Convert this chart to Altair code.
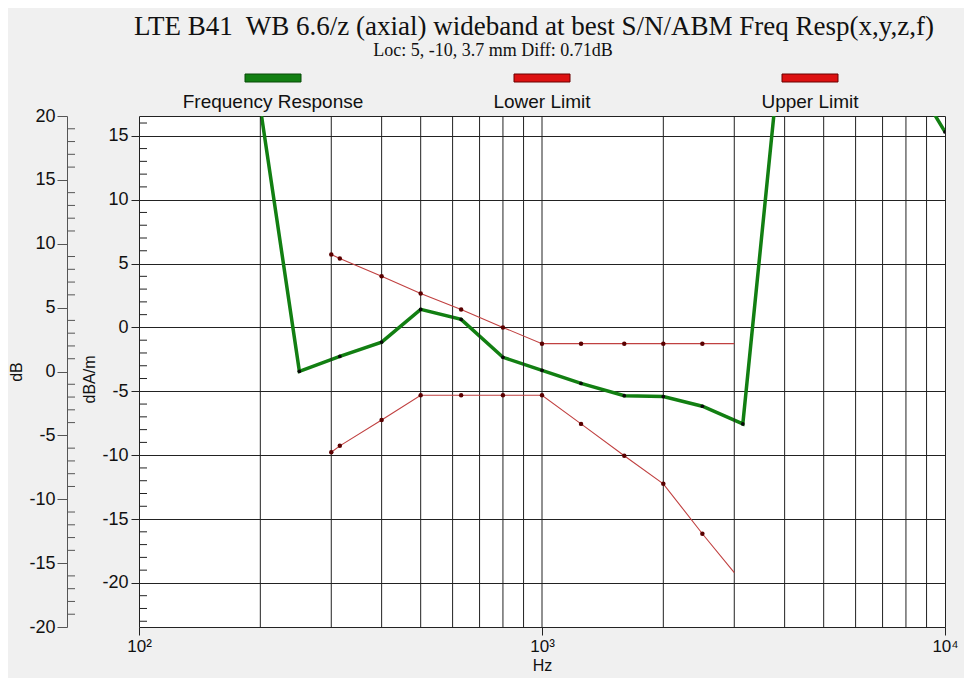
import altair as alt
import pandas as pd

# ---------------- data ----------------
title_text = "LTE B41\u00a0 WB 6.6/z (axial) wideband at best S/N/ABM Freq Resp(x,y,z,f)"
subtitle_text = "Loc: 5, -10, 3.7 mm Diff: 0.71dB"
series_names = ["Frequency Response", "Lower Limit", "Upper Limit"]

# frequency response (dBA/m, inner axis)
fr_freq = [200, 250, 315, 400, 500, 630, 800, 1000, 1250, 1600, 2000, 2500, 3150,
           4000, 5000, 6300, 8000, 10000]
fr_val = [17.2, -3.44, -2.27, -1.15, 1.41, 0.63, -2.34, -3.36, -4.38, -5.34, -5.41,
          -6.17, -7.55, 25.0, 27.0, 24.0, 20.4, 15.3]

# limit masks
lim_freq = [300, 315, 400, 500, 630, 800, 1000, 1250, 1600, 2000, 2500, 3000]
lower_val = [-9.77, -9.27, -7.24, -5.31, -5.31, -5.31, -5.31, -7.55, -10.05, -12.24, -16.15, -19.2]
upper_val = [5.7, 5.4, 4.0, 2.65, 1.4, 0.0, -1.27, -1.27, -1.27, -1.27, -1.27, -1.27]

x_grid_values = [200, 300, 400, 500, 600, 700, 800, 900,
                 1000, 2000, 3000, 4000, 5000, 6000, 7000, 8000, 9000]
x_label_values = [100, 1000, 10000]
inner_major = [-20, -15, -10, -5, 0, 5, 10, 15]
outer_major = [-20, -15, -10, -5, 0, 5, 10, 15, 20]
inner_domain = [-23.45, 16.55]
outer_domain = [-20, 20]

inner_minor = [v for v in range(-23, 17) if v % 5 != 0]
outer_minor = [v for v in range(-20, 21) if v % 5 != 0]

fr_df = pd.DataFrame({"freq": fr_freq, "val": fr_val})
lim_df = pd.DataFrame({"freq": lim_freq, "lower": lower_val, "upper": upper_val})
lim_pts_df = lim_df.iloc[:-1]
legend_df = pd.DataFrame({"name": series_names})
inner_minor_df = pd.DataFrame({"v": inner_minor})
outer_minor_df = pd.DataFrame({"v": outer_minor})
xgrid_df = pd.DataFrame({"freq": x_grid_values})
text_df = pd.DataFrame({"title": [title_text], "sub": [subtitle_text]})

GREEN = "#127f12"
RED_LINE = "#c04040"
RED_DOT = "#5a0000"
GRID = "#222222"
SANS = "Liberation Sans"
SERIF = "Liberation Serif"
HYPHEN = "datum.value < 0 ? '-' + abs(datum.value) : '' + datum.value"


def xscale():
    return alt.Scale(type="log", domain=[100, 10000], nice=False)


def yscale():
    return alt.Scale(domain=inner_domain, nice=False, zero=False)


x_axis = alt.Axis(
    values=x_label_values, orient="bottom",
    labelExpr="datum.value == 100 ? '10²' : datum.value == 1000 ? '10³' : '10⁴'",
    grid=False, domain=False, tickColor=GRID, tickSize=8,
    labelFontSize=17, labelPadding=3, labelFont=SANS, labelColor="#111",
    title="Hz", titleFontSize=16, titleFont=SANS, titleFontWeight="normal",
    titleColor="#111", titlePadding=3, labelFlush=False,
)
y_axis = alt.Axis(
    values=inner_major, orient="left", labelExpr=HYPHEN,
    grid=True, gridColor=GRID, gridWidth=1, gridOpacity=1,
    domain=False, tickColor=GRID, tickSize=8,
    labelFontSize=18, labelFont=SANS, labelPadding=3, labelColor="#111",
    title="dBA/m", titleFontSize=16, titleFont=SANS, titleFontWeight="normal",
    titleColor="#111", titlePadding=4, titleY=263,
)


def X(axis=None):
    return alt.X("freq:Q", scale=xscale(), axis=axis)


def Y(field, axis=None):
    return alt.Y(f"{field}:Q", scale=yscale(), axis=axis)


x_grid = alt.Chart(xgrid_df).mark_rule(color=GRID, strokeWidth=1).encode(x=X())

green_line = alt.Chart(fr_df).mark_line(color=GREEN, strokeWidth=3.5, clip=True).encode(
    x=X(x_axis), y=Y("val", y_axis))
green_pts = alt.Chart(fr_df).mark_point(filled=True, size=14, color="#0a0a0a", opacity=1, clip=True).encode(
    x=X(), y=Y("val"))
low_line = alt.Chart(lim_df).mark_line(color=RED_LINE, strokeWidth=1.1, clip=True).encode(
    x=X(), y=Y("lower"))
low_pts = alt.Chart(lim_pts_df).mark_point(filled=True, size=20, color=RED_DOT, opacity=1, clip=True).encode(
    x=X(), y=Y("lower"))
up_line = alt.Chart(lim_df).mark_line(color=RED_LINE, strokeWidth=1.1, clip=True).encode(
    x=X(), y=Y("upper"))
up_pts = alt.Chart(lim_pts_df).mark_point(filled=True, size=20, color=RED_DOT, opacity=1, clip=True).encode(
    x=X(), y=Y("upper"))

inner_minor_ticks = alt.Chart(inner_minor_df).mark_rule(color=GRID, strokeWidth=1).encode(
    y=Y("v"), x=alt.value(0), x2=alt.value(8))

outer_axis_layer = alt.Chart(outer_minor_df).mark_rule(color="#555", strokeWidth=1).encode(
    y=alt.Y("v:Q", scale=alt.Scale(domain=outer_domain, nice=False, zero=False),
            axis=alt.Axis(values=outer_major, orient="left", offset=72, grid=False, labelExpr=HYPHEN,
                          domain=True, domainColor="#555", tickColor="#555", tickSize=10,
                          labelFontSize=18, labelFont=SANS, labelPadding=2, labelColor="#111",
                          title="dB", titleFontSize=16, titleFont=SANS, titleFontWeight="normal",
                          titleColor="#111", titlePadding=4)),
    x=alt.value(-72), x2=alt.value(-64))

# manual legend above plot
legend_layers = []
legend_fill = [GREEN, "#dd1111", "#dd1111"]
legend_stroke = ["#064a06", "#6a0000", "#6a0000"]
legend_cx = [134, 403, 671]
for name, fc, sc, cx in zip(series_names, legend_fill, legend_stroke, legend_cx):
    base = alt.Chart(legend_df).transform_filter(alt.datum.name == name)
    legend_layers.append(base.mark_rect(color=fc, stroke=sc, strokeWidth=1).encode(
        x=alt.value(cx - 28), x2=alt.value(cx + 28), y=alt.value(-42), y2=alt.value(-34)))
    legend_layers.append(base.mark_text(font=SANS, fontSize=19, color="#111", baseline="middle").encode(
        x=alt.value(cx), y=alt.value(-14), text="name:N"))

title_mark = alt.Chart(text_df).mark_text(font=SERIF, fontSize=27, color="#111", baseline="middle").encode(
    x=alt.value(395), y=alt.value(-89), text="title:N")
subtitle_mark = alt.Chart(text_df).mark_text(font=SERIF, fontSize=18, color="#111", baseline="middle").encode(
    x=alt.value(354), y=alt.value(-65), text="sub:N")

chart = alt.layer(
    green_line, x_grid, low_line, up_line, green_pts, low_pts, up_pts,
    inner_minor_ticks, outer_axis_layer, title_mark, subtitle_mark, *legend_layers
).resolve_scale(y="independent", x="independent").properties(
    width=806, height=511,
    padding={"left": 0, "top": 5, "right": 5, "bottom": 5},
    background="#f0f0f0",
).configure_view(fill="white", stroke="#222", strokeWidth=1)

chart.save("out.html", embed_options={"renderer": "svg", "actions": False})
